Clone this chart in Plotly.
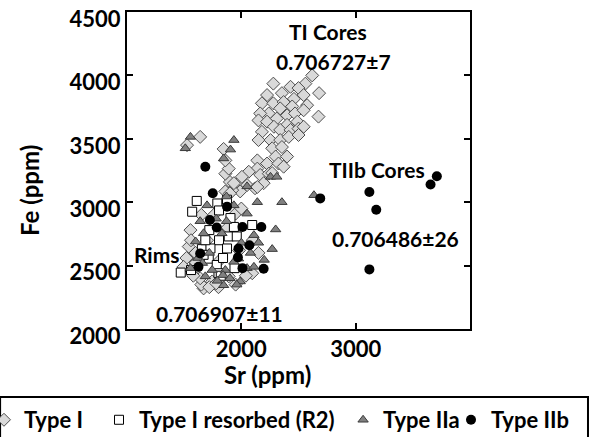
import plotly.graph_objects as go

# ---------------- data (Sr ppm, Fe ppm) ----------------
type1_sr = [2620, 2280, 2430, 2560, 2680, 2500, 2355, 2225, 2180, 2280, 2370, 2460, 2545, 2575,
            2445, 2340, 2240, 2165, 2150, 2225, 2310, 2400, 2470, 2545, 2675, 2490, 2400, 2285,
            2340, 2430, 2500, 2545, 2180, 2150, 2255, 2340, 2415, 2500, 2270, 2355, 2300, 2400,
            2140, 2225, 2325, 2140, 2065, 2165, 2240, 1975, 2050, 2120, 2195, 1990, 1900, 1860,
            1890, 1860, 1845, 1640, 1525, 2140, 1920, 2370, 2270, 2005, 1935, 1860, 1950, 1900,
            1555, 1540, 1670, 1585, 1600, 1815, 1890, 1745, 2095, 1700, 1760, 1880, 2000, 1520,
            1650, 1980, 1800, 1495, 1640, 1560, 1600, 1580, 1720, 1780, 1950, 2040, 2150, 2100,
            1650, 1700]
type1_fe = [4000, 3935, 3910, 3935, 3860, 3900, 3860, 3845, 3780, 3780, 3790, 3815, 3845, 3765,
            3755, 3740, 3700, 3700, 3645, 3635, 3660, 3685, 3700, 3725, 3675, 3635, 3610, 3595,
            3570, 3570, 3580, 3595, 3555, 3490, 3490, 3490, 3515, 3530, 3425, 3435, 3360, 3360,
            3330, 3305, 3305, 3265, 3240, 3215, 3225, 3150, 3135, 3110, 3150, 3085, 3160, 3225,
            3265, 3330, 3420, 3515, 3450, 3120, 3095, 3280, 3230, 3200, 3150, 3085, 2910, 3070,
            2780, 2650, 2320, 2465, 2520, 2545, 2415, 2375, 2440, 2700, 2900, 2800, 2950, 2560,
            2350, 2620, 2330, 2490, 2400, 2700, 2600, 2420, 2330, 2360, 2350, 2420, 2600, 2700,
            2900, 2650]

resorbed_sr = [1610, 1570, 1790, 1875, 1805, 1905, 1720, 1935, 2095, 1805, 1890, 1960, 1655,
               1730, 1875, 1715, 1785, 1470, 1560, 1940, 1670, 1800, 1685, 1840, 1820]
resorbed_fe = [3010, 2925, 2990, 3020, 2935, 2875, 2780, 2805, 2820, 2700, 2730, 2730, 2630,
               2635, 2635, 2555, 2505, 2445, 2465, 2480, 2585, 2440, 2700, 2560, 2420]

type2a_sr = [1555, 1510, 1935, 1905, 1845, 2255, 2310, 2050, 2635, 1870,
             1640, 1700, 1935, 2140, 2355, 2300, 2270, 2200, 1975, 1685, 1845, 1990, 1600,
             1830, 2050, 2110, 1745, 1555, 1935, 1860, 2050, 1670, 2110, 1840, 1780, 2000,
             1620, 1900, 1720, 1870, 2150, 1960, 1790, 1660, 2080]
type2a_fe = [3515, 3425, 3490, 3415, 3345, 3200, 3200, 3125, 3055, 3045,
             2850, 2975, 2975, 3000, 3000, 2785, 2630, 2545, 2555, 2415, 2345, 2375, 2690,
             2755, 2480, 2490, 2465, 2480, 2530, 2465, 2910, 2755, 2740, 2425, 2870, 2680,
             2560, 2400, 2600, 2850, 2680, 2350, 2380, 2520, 2600]

type2b_sr = [1685, 1750, 1875, 1725, 1785, 2010, 2175, 2070, 1975, 1640, 1970, 1625, 2010,
             2195, 2690, 3120, 3180, 3120, 3655, 3710]
type2b_fe = [3280, 3070, 2965, 2860, 2800, 2805, 2805, 2660, 2635, 2595, 2565, 2490, 2480,
             2475, 3030, 3080, 2940, 2470, 3140, 3205]

series_names = ["Type I", "Type I resorbed (R2)", "Type IIa", "Type IIb"]
x_ticks = [2000, 3000]
y_ticks = [2000, 2500, 3000, 3500, 4000, 4500]
x_range = [1000, 4000]
y_range = [2000, 4500]

labels = [
    ("TI Cores", 2754, 4350),
    ("0.706727\u00b17", 2810, 4106),
    ("TIIb Cores", 3187, 3254),
    ("0.706486\u00b126", 3344, 2710),
    ("Rims", 1262, 2591),
    ("0.706907\u00b111", 1813, 2126),
]

FONT = "Lato"
bold = lambda size: dict(family=FONT, size=size, color="black", weight="bold")

fig = go.Figure()
fig.add_trace(go.Scatter(
    x=type1_sr, y=type1_fe, mode="markers", name=series_names[0], legend="legend",
    marker=dict(symbol="diamond", size=10, color="#d9d9d9", line=dict(color="#4d4d4d", width=1))))
fig.add_trace(go.Scatter(
    x=resorbed_sr, y=resorbed_fe, mode="markers", name=series_names[1], legend="legend2",
    marker=dict(symbol="square", size=9, color="white", line=dict(color="black", width=1))))
fig.add_trace(go.Scatter(
    x=type2a_sr, y=type2a_fe, mode="markers", name=series_names[2], legend="legend3",
    marker=dict(symbol="triangle-up", size=9, color="#808080", line=dict(color="#3a3a3a", width=1))))
fig.add_trace(go.Scatter(
    x=type2b_sr, y=type2b_fe, mode="markers", name=series_names[3], legend="legend4",
    marker=dict(symbol="circle", size=10, color="black", line=dict(color="black", width=0))))

axis_common = dict(showline=True, linewidth=2, linecolor="black", mirror="ticks",
                   ticks="inside", ticklen=6, tickwidth=2, tickcolor="black",
                   showgrid=False, zeroline=False, tickfont=bold(22),
                   ticklabeloverflow="allow")
fig.update_xaxes(range=x_range, tickvals=x_ticks, **axis_common)
fig.update_yaxes(range=y_range, tickvals=y_ticks, ticklabelshift=7, **axis_common)

for text, x, y in labels:
    fig.add_annotation(text=text, x=x, y=y, xref="x", yref="y", showarrow=False,
                       font=bold(21), xanchor="center", yanchor="middle")

# axis titles
fig.add_annotation(text="Sr (ppm)", x=0.411, y=-0.142, xref="paper", yref="paper",
                   showarrow=False, font=bold(24), xanchor="center", yanchor="middle")
fig.add_annotation(text="Fe (ppm)", x=-0.283, y=0.4385, xref="paper", yref="paper",
                   showarrow=False, font=bold(24), textangle=-90,
                   xanchor="center", yanchor="middle")

# legend frame
fig.add_shape(type="rect", xref="paper", yref="paper", x0=-0.370, x1=1.344,
              y0=-0.37, y1=-0.2145, line=dict(color="black", width=2), fillcolor="rgba(0,0,0,0)")

leg_common = dict(orientation="h", xanchor="left", yanchor="middle", y=-0.287,
                  bgcolor="rgba(0,0,0,0)", borderwidth=0, font=bold(22), itemwidth=30)
fig.update_layout(
    width=595, height=437,
    margin=dict(l=127, r=125, t=12, b=108, autoexpand=False),
    plot_bgcolor="white", paper_bgcolor="white",
    showlegend=True,
    legend=dict(x=-0.417, **leg_common),
    legend2=dict(x=-0.0816, **leg_common),
    legend3=dict(x=0.630, **leg_common),
    legend4=dict(x=0.9446, **leg_common),
)

fig.write_html("out.html")
